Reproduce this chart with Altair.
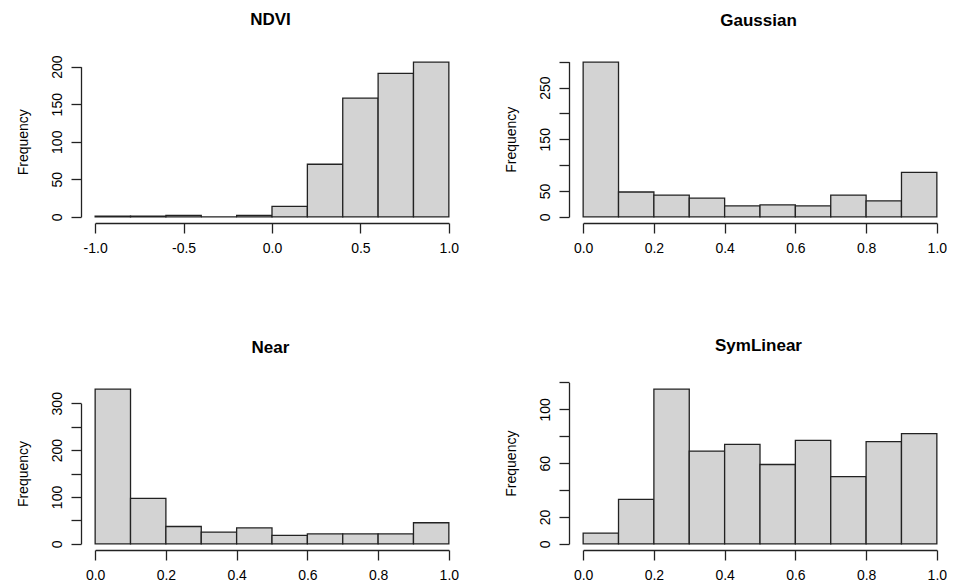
import altair as alt
import pandas as pd

# ---- data ----
titles = ["NDVI", "Gaussian", "Near", "SymLinear"]

ndvi_edges = [-1.0, -0.8, -0.6, -0.4, -0.2, 0.0, 0.2, 0.4, 0.6, 0.8, 1.0]
unit_edges = [0.0, 0.1, 0.2, 0.3, 0.4, 0.5, 0.6, 0.7, 0.8, 0.9, 1.0]

ndvi_counts = [1, 1, 2, 0, 2, 14, 70, 158, 191, 206]
gaussian_counts = [299, 48, 42, 36, 21, 23, 21, 42, 31, 86]
near_counts = [330, 97, 37, 25, 34, 18, 21, 21, 21, 45]
symlinear_counts = [8, 33, 115, 69, 74, 59, 77, 50, 76, 82]

x_ticks_ndvi = [-1.0, -0.5, 0.0, 0.5, 1.0]
x_ticks_unit = [0.0, 0.2, 0.4, 0.6, 0.8, 1.0]

y_ticks_ndvi = [0, 50, 100, 150, 200]
y_labels_ndvi = [0, 50, 100, 150, 200]
y_ticks_gaussian = [0, 50, 100, 150, 200, 250, 300]
y_labels_gaussian = [0, 50, 150, 250]
y_ticks_near = [0, 50, 100, 150, 200, 250, 300]
y_labels_near = [0, 100, 200, 300]
y_ticks_symlinear = [0, 20, 40, 60, 80, 100, 120]
y_labels_symlinear = [0, 20, 60, 100]

# ---- layout (R base-graphics look: 4% expansion around the data) ----
REGION_W, PH = 382, 167   # R plot region size
PW = 370                  # group width (keeps the page from overflowing)
FONT = "Liberation Sans"


def panel(title, edges, counts, xticks, yticks, ylabels):
    df = pd.DataFrame({"x0": edges[:-1], "x1": edges[1:],
                       "count": counts, "base": [0] * len(counts)})
    lo, hi = edges[0], edges[-1]
    span = hi - lo
    ppx = REGION_W / (1.08 * span)
    xr = [0.04 * span * ppx, 1.04 * span * ppx]
    ymax = max(counts)
    ppy = PH / (1.08 * ymax)
    y0 = PH - 0.04 * ymax * ppy
    yr = [y0, y0 - yticks[-1] * ppy]
    lab = "[" + ",".join(str(v) for v in ylabels) + "]"
    return alt.Chart(df).mark_rect(
        fill="#D3D3D3", stroke="#222222", strokeWidth=1.3
    ).encode(
        x=alt.X("x0:Q", title=None,
                scale=alt.Scale(domain=[lo, hi], range=xr, nice=False, zero=False),
                axis=alt.Axis(values=xticks, format=".1f",
                              labelExpr="replace(datum.label, '\u2212', '-')")),
        x2="x1:Q",
        y=alt.Y("count:Q", title="Frequency",
                scale=alt.Scale(domain=[0, yticks[-1]], range=yr, nice=False),
                axis=alt.Axis(values=yticks,
                              labelExpr=f"indexof({lab}, datum.value) >= 0 ? datum.label : ''")),
        y2="base:Q",
    ).properties(width=PW, height=PH,
                 title=alt.Title(title, dx=REGION_W / 2 - PW / 2 - 1.5))


p1 = panel(titles[0], ndvi_edges, ndvi_counts, x_ticks_ndvi, y_ticks_ndvi, y_labels_ndvi)
p2 = panel(titles[1], unit_edges, gaussian_counts, x_ticks_unit, y_ticks_gaussian, y_labels_gaussian)
p3 = panel(titles[2], unit_edges, near_counts, x_ticks_unit, y_ticks_near, y_labels_near)
p4 = panel(titles[3], unit_edges, symlinear_counts, x_ticks_unit, y_ticks_symlinear, y_labels_symlinear)

chart = alt.concat(
    p1, p2, p3, p4, columns=2,
    spacing={"row": 160, "column": 118}, bounds="flush"
).properties(
    padding={"left": 8, "top": 3, "right": 0, "bottom": 0}
).configure_view(stroke=None).configure_axis(
    grid=False,
    domainColor="#222222", domainWidth=1.3,
    tickColor="#222222", tickWidth=1.3, tickSize=10,
    labelFont=FONT, labelFontSize=14, labelColor="black",
    titleFont=FONT, titleFontSize=14, titleFontWeight="normal", titleColor="black",
    labelOverlap=False, labelFlush=False,
).configure_axisY(
    labelAngle=270, labelAlign="center", labelBaseline="bottom",
    labelPadding=7, titlePadding=20,
).configure_axisX(
    labelPadding=8,
).configure_title(
    font=FONT, fontSize=17, fontWeight="bold", color="black",
    anchor="middle", frame="group", baseline="alphabetic", offset=26,
)

chart.save("out.html", embed_options={"renderer": "svg", "actions": False})
